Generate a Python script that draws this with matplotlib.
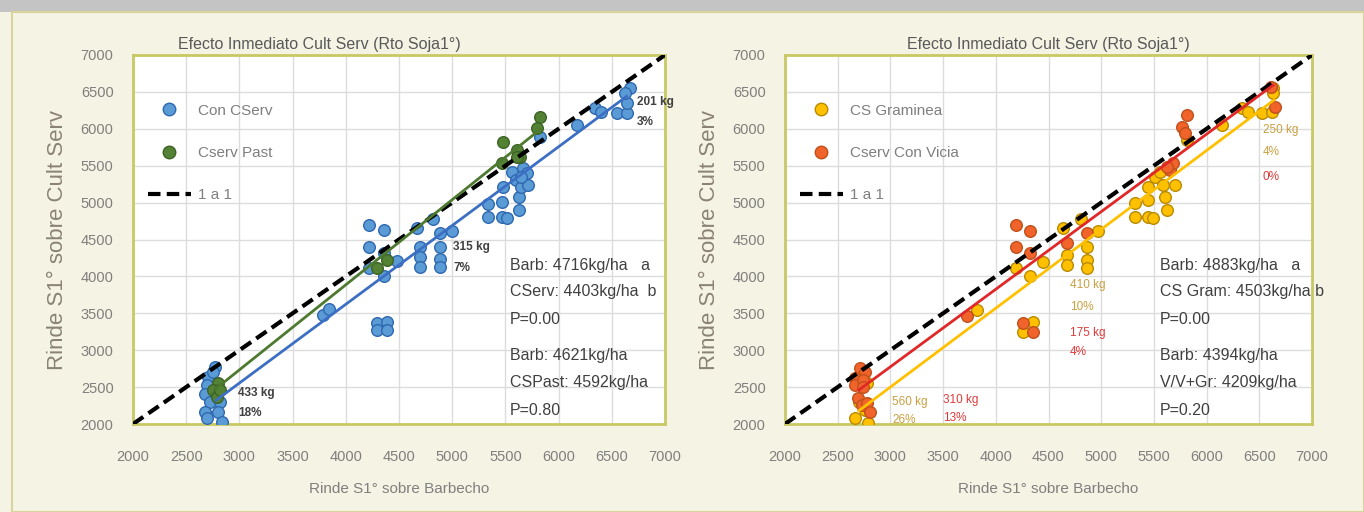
import matplotlib
matplotlib.use("Agg")
import matplotlib.pyplot as plt
from matplotlib.lines import Line2D
from matplotlib.patches import Rectangle

plt.rcParams['font.family'] = ['Liberation Sans', 'DejaVu Sans']

# ---- Left panel data (Barbecho yield, Cult Serv yield) ----
con_cserv_x = [2770, 2705, 2695, 2680, 2725, 2815, 2680, 2700, 2800, 2835, 2750,
               3785, 3840, 4290, 4290, 4390, 4390,
               4220, 4360, 4220, 4360, 4220, 4360, 4480, 4670, 4820, 4700, 4700, 4700,
               4885, 5000, 4885, 4885, 4885,
               5340, 5340, 5470, 5470, 5515, 5630, 5630, 5480, 5560, 5665, 5700, 5600,
               5650, 5710, 5650, 5825, 6170, 6340, 6400, 6550, 6640, 6640, 6670, 6620]
con_cserv_y = [2770, 2640, 2530, 2400, 2300, 2300, 2160, 2080, 2160, 2030, 2700,
               3480, 3560, 3370, 3270, 3380, 3270,
               4690, 4630, 4400, 4320, 4110, 4000, 4210, 4660, 4780, 4400, 4260, 4130,
               4590, 4620, 4400, 4240, 4130,
               4980, 4800, 5010, 4800, 4790, 5080, 4900, 5210, 5410, 5470, 5400, 5300,
               5210, 5240, 5350, 5890, 6050, 6280, 6230, 6210, 6210, 6350, 6550, 6490]
cserv_past_x = [2800, 2750, 2790, 2820, 4290, 4390, 5470, 5480, 5610, 5640, 5610, 5800, 5825]
cserv_past_y = [2555, 2460, 2370, 2460, 4110, 4220, 5540, 5820, 5710, 5620, 5620, 6010, 6160]

# trend lines (start, end)
trend_cserv_x, trend_cserv_y = [2780, 6640], [2320, 6440]
trend_past_x, trend_past_y = [2780, 5825], [2480, 5990]

# ---- Right panel data ----
gram_x = [2664, 2790, 2760, 2780, 2700,
          3820, 4350, 4260,
          4192, 4325, 4450, 4640, 4810, 4675, 4675, 4970, 4865, 4865, 4865,
          5320, 5320, 5445, 5445, 5490, 5605, 5625, 5445, 5510, 5560, 5585, 5700,
          5815, 6145, 6335, 6395, 6525, 6620, 6630, 6630]
gram_y = [2080, 2010, 2190, 2560, 2300,
          3545, 3380, 3250,
          4117, 4005, 4195, 4655, 4780, 4290, 4155, 4615, 4400, 4220, 4115,
          4995, 4805, 5035, 4805, 4790, 5075, 4900, 5210, 5345, 5415, 5240, 5240,
          5850, 6050, 6280, 6230, 6215, 6230, 6550, 6485]
vicia_x = [2712, 2760, 2664, 2664, 2740, 2740, 2690, 2730, 2780, 2810,
           3730, 4260, 4350,
           4192, 4325, 4192, 4325, 4675, 4865,
           5650, 5680, 5620, 5815, 5765, 5795, 6650, 6610]
vicia_y = [2759, 2705, 2620, 2530, 2600, 2500, 2350, 2260, 2290, 2160,
           3460, 3370, 3250,
           4697, 4615, 4398, 4317, 4450, 4590,
           5440, 5535, 5480, 6185, 6025, 5945, 6295, 6570]

trend_gram_x, trend_gram_y = [2700, 6640], [2180, 6390]
trend_vicia_x, trend_vicia_y = [2700, 6630], [2460, 6590]

one_to_one = [2000, 7000]
ticks = [2000, 2500, 3000, 3500, 4000, 4500, 5000, 5500, 6000, 6500, 7000]

title = "Efecto Inmediato Cult Serv (Rto Soja1°)"
xlabel = "Rinde S1° sobre Barbecho"
ylabel = "Rinde S1° sobre Cult Serv"

left_stats = ["Barb: 4716kg/ha   a", "CServ: 4403kg/ha  b", "P=0.00",
              "Barb: 4621kg/ha", "CSPast: 4592kg/ha", "P=0.80"]
right_stats = ["Barb: 4883kg/ha   a", "CS Gram: 4503kg/ha b", "P=0.00",
               "Barb: 4394kg/ha", "V/V+Gr: 4209kg/ha", "P=0.20"]
stats_y = [4150, 3790, 3410, 2930, 2560, 2180]

W, H = 1364, 512
bg = "#f5f3e3"
fig = plt.figure(figsize=(W / 100, H / 100), dpi=100, facecolor=bg)
fig.patches.append(Rectangle((0, 1 - 12 / H), 1, 12 / H, transform=fig.transFigure,
                             facecolor="#c4c4c4", edgecolor="none", zorder=0))
fig.patches.append(Rectangle((12 / W, 0), 1 - 12 / W, 1 - 12 / H, transform=fig.transFigure,
                             facecolor="none", edgecolor="#d8d49a", lw=1.5, zorder=0))

ax1 = fig.add_axes([133 / W, 88 / H, 532 / W, 369 / H])
ax2 = fig.add_axes([785 / W, 88 / H, 527 / W, 369 / H])

for ax, tx in [(ax1, 0.35), (ax2, 0.5)]:
    ax.set_facecolor("white")
    ax.set_xlim(2000, 7000)
    ax.set_ylim(2000, 7000)
    ax.set_xticks(ticks)
    ax.set_yticks(ticks)
    ax.grid(True, color="#dcdcdc", lw=1)
    ax.set_axisbelow(True)
    ax.tick_params(length=0, labelsize=10.5, colors="#7f7f7f")
    ax.tick_params(axis="x", pad=19)
    ax.tick_params(axis="y", pad=14)
    for s in ax.spines.values():
        s.set_color("#c8c864")
        s.set_linewidth(2)
    ax.set_title(title, x=tx, fontsize=11.5, color="#595959", pad=4)
    ax.set_xlabel(xlabel, fontsize=11, color="#7f7f7f", labelpad=13)
    ax.set_ylabel(ylabel, fontsize=16, color="#8a8275", labelpad=9)
    ax.plot(one_to_one, one_to_one, ls=(0, (3, 1.5)), color="black", lw=3, zorder=4)

ms = 70
# left panel
ax1.scatter(con_cserv_x, con_cserv_y, s=ms, c="#5b9bd5", edgecolors="#2e68b0", lw=1, zorder=3)
ax1.scatter(cserv_past_x, cserv_past_y, s=ms, c="#548235", edgecolors="#3d6324", lw=1, zorder=3)
ax1.plot(trend_cserv_x, trend_cserv_y, color="#3c6fc4", lw=2, zorder=5)
ax1.plot(trend_past_x, trend_past_y, color="#4d7a30", lw=2, zorder=5)

leg_kw = dict(loc="upper left", bbox_to_anchor=(0.028, 0.868), frameon=False,
              handlelength=2.8, labelspacing=1.85, fontsize=11, labelcolor="#7f7f7f",
              handletextpad=0.5, borderpad=0, borderaxespad=0)
h1 = [Line2D([], [], ls="", marker="o", ms=9, mfc="#5b9bd5", mec="#2e68b0"),
      Line2D([], [], ls="", marker="o", ms=9, mfc="#548235", mec="#3d6324"),
      Line2D([], [], ls=(0, (3, 1.5)), color="black", lw=3)]
ax1.legend(h1, ["Con CServ", "Cserv Past", "1 a 1"], **leg_kw)

ann = dict(fontsize=8.5, fontweight="bold", color="#404040", va="center")
ax1.text(6737, 6363, "201 kg", **ann)
ax1.text(6737, 6092, "3%", **ann)
ax1.text(5008, 4398, "315 kg", **ann)
ax1.text(5008, 4114, "7%", **ann)
ax1.text(2987, 2420, "433 kg", **ann)
ax1.text(2987, 2150, "18%", **ann)
for t, y in zip(left_stats, stats_y):
    ax1.text(5540, y, t, fontsize=11.5, color="#404040", va="center")

# right panel
ax2.scatter(gram_x, gram_y, s=ms, c="#ffc000", edgecolors="#b88a00", lw=1, zorder=3)
ax2.scatter(vicia_x, vicia_y, s=ms, c="#f0642c", edgecolors="#c0501a", lw=1, zorder=3)
ax2.plot(trend_gram_x, trend_gram_y, color="#ffc000", lw=2, zorder=5)
ax2.plot(trend_vicia_x, trend_vicia_y, color="#e02828", lw=2, zorder=5)

h2 = [Line2D([], [], ls="", marker="o", ms=9, mfc="#ffc000", mec="#b88a00"),
      Line2D([], [], ls="", marker="o", ms=9, mfc="#f0642c", mec="#c0501a"),
      Line2D([], [], ls=(0, (3, 1.5)), color="black", lw=3)]
ax2.legend(h2, ["CS Graminea", "Cserv Con Vicia", "1 a 1"], **leg_kw)

gold = dict(fontsize=8.5, color="#c9a040", va="center")
red = dict(fontsize=8.5, color="#e03a3a", va="center")
ax2.text(6535, 5984, "250 kg", **gold)
ax2.text(6535, 5686, "4%", **gold)
ax2.text(6535, 5347, "0%", **red)
ax2.text(4704, 3883, "410 kg", **gold)
ax2.text(4704, 3585, "10%", **gold)
ax2.text(4704, 3233, "175 kg", **red)
ax2.text(4704, 2976, "4%", **red)
ax2.text(3015, 2298, "560 kg", **gold)
ax2.text(3015, 2054, "26%", **gold)
ax2.text(3499, 2325, "310 kg", **red)
ax2.text(3499, 2081, "13%", **red)
for t, y in zip(right_stats, stats_y):
    ax2.text(5555, y, t, fontsize=11.5, color="#404040", va="center")

fig.savefig("out.png", dpi=100, facecolor=bg)
